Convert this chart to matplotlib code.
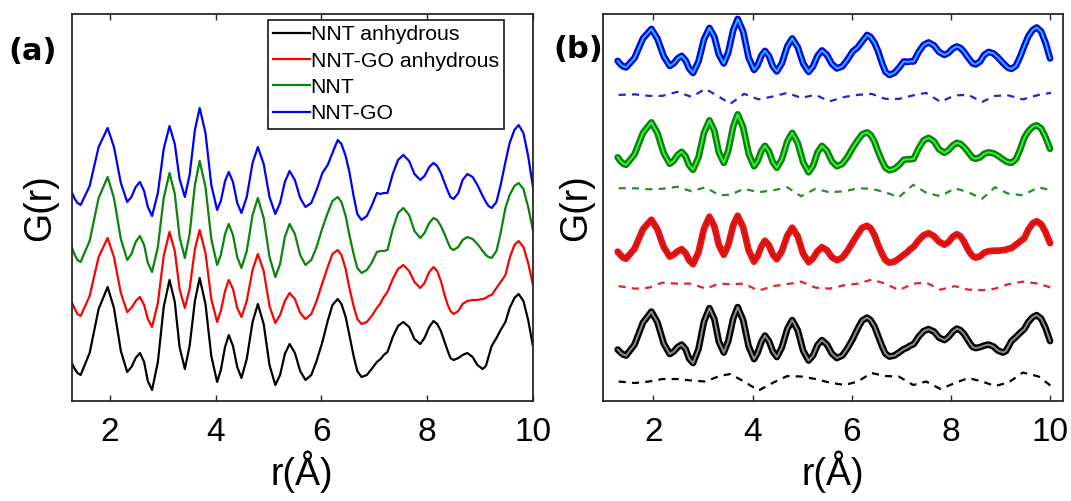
import numpy as np
import matplotlib.pyplot as plt

plt.rcParams["font.family"] = ["Liberation Sans", "DejaVu Sans"]

# r grid (Angstrom) shared by the four G(r) curves
r = np.array([
    1.28, 1.34, 1.39, 1.45, 1.62, 1.79, 1.96, 2.08, 2.21, 2.33, 2.41, 2.49,
    2.57, 2.65, 2.72, 2.80, 2.91, 3.02, 3.13, 3.23, 3.32, 3.42, 3.51, 3.61,
    3.70, 3.81, 3.92, 4.03, 4.10, 4.18, 4.25, 4.33, 4.41, 4.49, 4.59, 4.70,
    4.80, 4.91, 5.02, 5.13, 5.22, 5.31, 5.40, 5.50, 5.60, 5.70, 5.81, 5.91,
    6.02, 6.12, 6.21, 6.31, 6.38, 6.46, 6.53, 6.61, 6.68, 6.76, 6.86, 6.95,
    7.05, 7.12, 7.18, 7.25, 7.35, 7.45, 7.55, 7.66, 7.76, 7.87, 7.95, 8.04,
    8.12, 8.19, 8.26, 8.33, 8.39, 8.44, 8.50, 8.59, 8.67, 8.76, 8.86, 8.95,
    9.05, 9.11, 9.16, 9.22, 9.31, 9.39, 9.48, 9.56, 9.65, 9.73, 9.82, 9.91,
    10.0])

# stacked G(r) curves (arb. units, already offset for display)
g_nnt_anh = np.array([
    38, 32, 28, 26, 48, 92, 114, 93, 50, 29, 34, 43, 48, 39, 20, 11, 39, 94,
    121, 99, 54, 32, 55, 100, 123, 97, 45, 19, 31, 54, 66, 55, 34, 23, 42, 79,
    97, 77, 36, 16, 26, 47, 57, 48, 30, 21, 26, 40, 59, 80, 96, 102, 97, 84,
    66, 45, 30, 24, 26, 32, 39, 42, 46, 49, 64, 75, 79, 74, 62, 57, 63, 74,
    80, 77, 70, 59, 50, 43, 41, 43, 46, 48, 44, 36, 32, 35, 44, 55, 63, 71,
    79, 93, 103, 107, 100, 81, 55])
g_nntgo_anh = np.array([
    99, 92, 87, 85, 105, 144, 163, 144, 108, 89, 93, 100, 104, 96, 82, 74, 98, 145,
    169, 150, 112, 93, 112, 152, 171, 148, 102, 79, 90, 110, 121, 112, 93, 84, 100, 131,
    147, 130, 95, 78, 86, 100, 108, 102, 88, 82, 87, 100, 118, 134, 147, 151, 146, 132,
    113, 95, 82, 77, 79, 85, 93, 98, 104, 109, 122, 132, 136, 130, 119, 113, 118, 129,
    134, 130, 120, 106, 96, 90, 87, 90, 97, 100, 101, 101, 102, 103, 105, 106, 113, 119,
    126, 143, 156, 160, 154, 138, 116])
g_nnt = np.array([
    154, 146, 141, 139, 160, 203, 224, 203, 162, 141, 147, 159, 165, 156, 138, 129, 154, 203,
    228, 207, 164, 143, 167, 216, 240, 214, 162, 136, 146, 167, 177, 166, 144, 133, 150, 186,
    203, 183, 144, 124, 137, 164, 177, 167, 146, 136, 141, 154, 173, 188, 200, 204, 199, 185,
    166, 147, 133, 128, 131, 138, 149, 150, 150, 151, 172, 188, 193, 186, 170, 163, 168, 178,
    183, 181, 175, 167, 159, 153, 151, 154, 161, 164, 162, 157, 150, 146, 144, 143, 150, 168,
    193, 206, 215, 218, 212, 194, 171])
g_nntgo = np.array([
    209, 202, 198, 196, 215, 254, 273, 254, 218, 199, 204, 214, 219, 210, 194, 185, 208, 252,
    275, 257, 222, 204, 226, 271, 293, 268, 216, 191, 200, 220, 229, 219, 198, 188, 204, 238,
    254, 237, 204, 187, 198, 219, 230, 221, 203, 194, 198, 211, 228, 236, 248, 261, 257, 245,
    229, 205, 187, 181, 185, 195, 208, 207, 208, 208, 227, 241, 246, 240, 227, 221, 225, 234,
    238, 235, 228, 218, 210, 204, 202, 208, 221, 227, 224, 216, 205, 199, 195, 193, 199, 216,
    239, 258, 271, 276, 268, 245, 214])

# difference curves (data - fit) for panel (b)
r_diff = np.array([
    1.30, 1.63, 1.91, 2.18, 2.48, 2.77, 3.05, 3.33, 3.55, 3.83, 4.12, 4.42,
    4.70, 4.98, 5.27, 5.55, 5.86, 6.12, 6.40, 6.68, 6.95, 7.24, 7.50, 7.79,
    8.08, 8.35, 8.63, 8.89, 9.16, 9.45, 9.77, 10.02])
diff_nnt_anh = np.array([
    0, -3, 0, 5, 5, 2, 0, 11, 15, 0, -18, -2, 11, 10, 5, -2, -7, 0, 17, 11,
    10, -7, 0, -15, -3, 7, 0, -9, -2, 18, 10, -9])
diff_nntgo_anh = np.array([
    -2, -7, -5, 5, 3, 3, -7, 3, 2, 3, -11, -2, 2, 7, -5, -7, 0, 3, 11, 3,
    -10, 3, 5, -9, -2, -9, -10, -7, 2, 7, 3, -5])
diff_nnt = np.array([
    1, 1, -1, 0, 4, -5, 3, -13, -12, 0, -7, -3, 3, -15, 0, -7, -5, 1, 0, -7,
    -17, 8, -8, -15, 1, -7, -20, 3, -10, -13, 3, -3])
diff_nntgo = np.array([
    1, 2, -1, -1, 7, -3, 13, -3, -17, 3, -8, -2, 5, -5, 1, -12, -3, 1, 3, -7,
    -7, 0, 5, -13, 0, 1, -13, -1, 0, -8, 1, 5])

labels = ["NNT anhydrous", "NNT-GO anhydrous", "NNT", "NNT-GO"]
curves = [g_nnt_anh, g_nntgo_anh, g_nnt, g_nntgo]
diffs = [diff_nnt_anh, diff_nntgo_anh, diff_nnt, diff_nntgo]

colors = ["#000000", "#FF0000", "#0A840A", "#0000FF"]
data_colors = ["#000000", "#F01010", "#08820A", "#0000E6"]
fit_colors = ["#8C8C8C", "#C41818", "#3BF03B", "#19C3FF"]
diff_colors = ["#000000", "#E8202A", "#2C8A2C", "#2424D0"]
b_shift = [65, 200, 334, 472]
b_diff_base = [39, 232, 425, 612]

fig = plt.figure(figsize=(10.71, 5.01), dpi=100)
ax_a = fig.add_axes([0.0669, 0.1996, 0.4307, 0.7725])
ax_b = fig.add_axes([0.5633, 0.1996, 0.4292, 0.7725])

# (a) stacked PDFs
for g, c, lbl in zip(curves, colors, labels):
    ax_a.plot(r, g, color=c, lw=1.6, label=lbl)

leg = ax_a.legend(
    loc="upper right",
    bbox_to_anchor=(0.938, 0.985),
    borderaxespad=0,
    fontsize=15.3,
    handlelength=1.7,
    handletextpad=0.05,
    labelspacing=0.34,
    borderpad=0.26,
    fancybox=False,
    framealpha=1,
    edgecolor="#262626",
)
leg.get_frame().set_linewidth(1.3)
ax_a.set_xlim(1.28, 10.0)
ax_a.set_ylim(0, 387)

# (b) data (thick), fit (thin) and dashed difference curves
for g, d, s, base, dc, fc, kc in zip(curves, diffs, b_shift, b_diff_base,
                                     data_colors, fit_colors, diff_colors):
    ax_b.plot(r, g + s, color=dc, lw=4.8, solid_capstyle="round")
    ax_b.plot(r, g + s, color=fc, lw=1.4)
    ax_b.plot(r_diff, d + base, color=kc, lw=1.6, dashes=(3.2, 2.8))
ax_b.set_xlim(0.99, 10.26)
ax_b.set_ylim(0, 775)

for ax, lp in ((ax_a, 10), (ax_b, 6.5)):
    ax.set_xticks([2, 4, 6, 8, 10])
    ax.set_yticks([])
    ax.tick_params(axis="x", direction="in", top=True, length=4, width=1,
                   pad=11.5, labelsize=24, color="#262626")
    for sp in ax.spines.values():
        sp.set_linewidth(1.3)
        sp.set_color("#262626")
    ax.set_xlabel("r(Å)", fontsize=27, labelpad=2)
    ax.set_ylabel("G(r)", fontsize=27, labelpad=lp)

fig.text(0.008, 1 - 52 / 501, "(a)", fontsize=22, fontweight="bold",
         family="DejaVu Sans", ha="left", va="center")
fig.text(553 / 1071, 1 - 49 / 501, "(b)", fontsize=22, fontweight="bold",
         family="DejaVu Sans", ha="left", va="center")

fig.savefig("out.png", dpi=100, facecolor="white")
